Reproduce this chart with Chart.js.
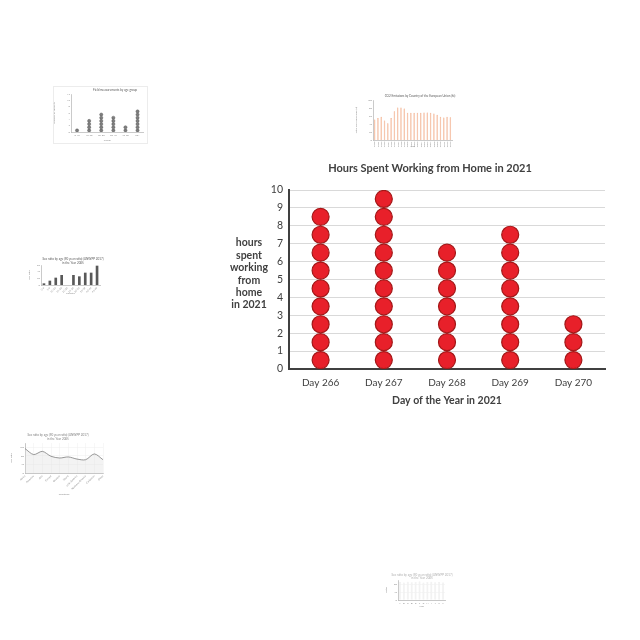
<!DOCTYPE html>
<html>
<head>
<meta charset="utf-8">
<script src="https://cdn.jsdelivr.net/npm/chart.js@4/dist/chart.umd.min.js"></script>
<style>
  html, body { margin:0; padding:0; background:#ffffff; width:640px; height:640px; overflow:hidden; }
  .box { position:absolute; }
  canvas { display:block; }
</style>
</head>
<body>
<div class="box" style="left:220px;top:150px;width:400px;height:270px;"><canvas id="main" width="400" height="270"></canvas></div>
<div class="box" style="left:53px;top:86px;width:95px;height:58px;"><canvas id="t1" width="95" height="58"></canvas></div>
<div class="box" style="left:355px;top:93px;width:105px;height:57px;"><canvas id="t2" width="105" height="57"></canvas></div>
<div class="box" style="left:28px;top:252px;width:76px;height:45px;"><canvas id="t3" width="76" height="45"></canvas></div>
<div class="box" style="left:10px;top:425px;width:110px;height:75px;"><canvas id="t4" width="110" height="75"></canvas></div>
<div class="box" style="left:385px;top:565px;width:75px;height:45px;"><canvas id="t5" width="75" height="45"></canvas></div>
<script>
// ---------- main chart data ----------
const chartTitle = 'Hours Spent Working from Home in 2021';
const xAxisTitle = 'Day of the Year in 2021';
const yAxisTitleLines = ['hours', 'spent', 'working', 'from', 'home', 'in 2021'];
const categories = ['Day 266', 'Day 267', 'Day 268', 'Day 269', 'Day 270'];
const hoursCounts = [9, 10, 7, 8, 3];

// ---------- thumbnail data ----------
const t1Title = 'Field measurements by age group';
const t1Categories = ['0-10', '10-20', '20-30', '30-40', '40-50', '50+'];
const t1Counts = [1, 4, 6, 5, 2, 7];

const t2Title = 'CO2 Emissions by Country of the European Union (kt)';
const t2Years = ['1990','1991','1992','1993','1994','1995','1996','1997','1998','1999','2000','2001','2002','2003','2004','2005','2006','2007','2008','2009','2010','2011','2012','2013'];
const t2Values = [51, 55, 58, 49, 42, 55, 72, 81, 81, 79, 68, 68, 68, 68, 68, 69, 69, 68, 66, 63, 58, 56, 58, 57];

const t3TitleLines = ['Sex ratio by age (90 year ratio) (UNWPP 2017)', 'in the Year 2005'];
const t3Categories = ['0-4','5-9','10-14','15-19','20-24','25-29','30-34','35-39','40-44','45-49'];
const t3Values = [5, 13, 22, 30, 0, 30, 26, 37, 37, 58];

const t4TitleLines = ['Sex ratio by age (90 year ratio) (UNWPP 2017)', 'in the Year 2005'];
const t4Categories = ['Africa','Americas','Asia','Europe','Oceania','World','Latin America','Northern America','Caribbean','Other'];
const t4Values = [114, 86, 101, 78, 70, 75, 65, 62, 89, 62];

const t5TitleLines = ['Sex ratio by age (90 year ratio) (UNWPP 2017)', 'in the Year 2005'];
const t5Categories = ['A','B','C','D','E','F','G','H','I','J','K','L'];
const t5Values = [90, 88, 91, 89, 90, 92, 88, 90, 91, 89, 90, 88];

// ---------- main chart ----------
const dotPoints = [];
categories.forEach((c, i) => {
  for (let k = 0; k < hoursCounts[i]; k++) dotPoints.push({ x: c, y: k + 0.5 });
});

const mainText = {
  id: 'mainText',
  afterDraw(chart) {
    const c = chart.ctx;
    c.save();
    c.fillStyle = '#404040';
    c.textAlign = 'center';
    c.textBaseline = 'middle';
    c.font = 'bold 11px Lato';
    c.fillText(chartTitle, 210, 18);
    c.font = 'bold 10.5px Lato';
    const cx = chart.chartArea.left - 40;
    yAxisTitleLines.forEach((l, i) => c.fillText(l, cx, 93 + i * 12.4));
    c.restore();
  }
};

new Chart(document.getElementById('main'), {
  type: 'scatter',
  data: { datasets: [{
    data: dotPoints,
    pointRadius: 8.5, pointHoverRadius: 8.5,
    backgroundColor: '#e8202a', borderColor: '#a31818', borderWidth: 1.2
  }]},
  options: {
    animation: false, responsive: false, devicePixelRatio: 1,
    layout: { padding: { left: 0, right: 15, top: 40, bottom: 0 } },
    plugins: { legend: { display: false }, tooltip: { enabled: false }, title: { display: false } },
    scales: {
      x: {
        type: 'category', labels: categories, offset: true,
        grid: { display: false, drawTicks: false },
        border: { color: '#404040', width: 2 },
        ticks: { color: '#404040', font: { family: 'Lato', size: 10 }, padding: 8 },
        title: { display: true, text: xAxisTitle, color: '#404040',
                 font: { family: 'Lato', size: 10.5, weight: 'bold' }, padding: { top: 4, bottom: 13 } },
        afterFit(s) { s.height = 51; }
      },
      y: {
        min: 0, max: 10,
        ticks: { stepSize: 1, color: '#404040', font: { family: 'Lato', size: 10.5 }, padding: 6 },
        grid: { color: '#d9d9d9', drawTicks: false },
        border: { color: '#404040', width: 2 },
        afterFit(s) { s.width = 69; }
      }
    }
  },
  plugins: [mainText]
});

// ---------- thumbnails ----------
function titlePlugin(lines, cx, y0, step, color) {
  return {
    id: 'tt' + Math.random().toString(36).slice(2),
    afterDraw(chart) {
      const c = chart.ctx;
      c.save();
      c.fillStyle = color || '#595959';
      c.textAlign = 'center'; c.textBaseline = 'middle';
      c.font = '3px Lato';
      lines.forEach((l, i) => c.fillText(l, cx, y0 + i * step));
      c.restore();
    }
  };
}
function bgPlugin(border) {
  return {
    id: 'bg' + Math.random().toString(36).slice(2),
    beforeDraw(chart) {
      const c = chart.ctx;
      c.save();
      c.fillStyle = '#ffffff';
      c.fillRect(0, 0, chart.width, chart.height);
      if (border) { c.strokeStyle = '#ececec'; c.lineWidth = 1; c.strokeRect(0.5, 0.5, chart.width - 1, chart.height - 1); }
      c.restore();
    }
  };
}
const tinyFont = { family: 'Lato', size: 2.5 };
function tinyScales(area, w, h, opts) {
  opts = opts || {};
  return {
    x: Object.assign({
      grid: { display: false, drawTicks: false },
      border: { color: '#a6a6a6', width: 0.6 },
      ticks: { color: '#8c8c8c', font: tinyFont, padding: 1.5, autoSkip: false,
               maxRotation: opts.rot || 0, minRotation: opts.rot || 0 },
      title: { display: !!opts.xTitle, text: opts.xTitle || '', color: '#8c8c8c', font: tinyFont, padding: { top: 0, bottom: opts.xTitlePad || 2 } },
      afterFit(s) { s.height = h - area[3]; }
    }, opts.x || {}),
    y: Object.assign({
      beginAtZero: true,
      grid: { display: !!opts.yGrid, color: '#efefef', drawTicks: false, lineWidth: 0.5 },
      border: { color: '#a6a6a6', width: 0.6 },
      ticks: { color: '#8c8c8c', font: tinyFont, padding: 1 },
      title: { display: !!opts.yTitle, text: opts.yTitle || '', color: '#8c8c8c', font: tinyFont, padding: 0 },
      afterFit(s) { s.width = area[0]; }
    }, opts.y || {})
  };
}
function baseOpts(area, w, h, scales) {
  return {
    animation: false, responsive: false, devicePixelRatio: 1,
    layout: { padding: { left: 0, top: area[1], right: w - area[2], bottom: 0 } },
    plugins: { legend: { display: false }, tooltip: { enabled: false }, title: { display: false } },
    scales: scales
  };
}

// t1: grey dot plot
(function () {
  const area = [18, 8, 92, 46], w = 95, h = 58;
  const pts = [];
  t1Categories.forEach((c, i) => { for (let k = 0; k < t1Counts[i]; k++) pts.push({ x: c, y: k + 0.5 }); });
  const sc = tinyScales(area, w, h, { xTitle: 'Group', yTitle: 'Number of subjects' });
  sc.x.type = 'category'; sc.x.labels = t1Categories; sc.x.offset = true;
  sc.y.min = 0; sc.y.max = 12; sc.y.ticks.stepSize = 1;
  new Chart(document.getElementById('t1'), {
    type: 'scatter',
    data: { datasets: [{ data: pts, pointRadius: 1.6, backgroundColor: '#7f7f7f', borderColor: '#4d4d4d', borderWidth: 0.4 }] },
    options: baseOpts(area, w, h, sc),
    plugins: [bgPlugin(true), titlePlugin([t1Title], 62, 4, 3)]
  });
})();

// t2: salmon bars
(function () {
  const area = [18, 7, 97, 47], w = 105, h = 57;
  const sc = tinyScales(area, w, h, { rot: 90, xTitle: 'Year', yTitle: 'Total CO2 Emissions (kt)', yGrid: false });
  sc.y.max = 100; sc.y.ticks.stepSize = 20;
  new Chart(document.getElementById('t2'), {
    type: 'bar',
    data: { labels: t2Years, datasets: [{ data: t2Values, backgroundColor: '#f6c2a4', borderColor: '#ee9f78', borderWidth: 0.5, barPercentage: 0.45, categoryPercentage: 1 }] },
    options: baseOpts(area, w, h, sc),
    plugins: [bgPlugin(false), titlePlugin([t2Title], 65, 3, 3)]
  });
})();

// t3: dark grey bars
(function () {
  const area = [13, 13, 72, 33], w = 76, h = 45;
  const sc = tinyScales(area, w, h, { rot: 45, xTitle: 'Country', yTitle: 'Sex ratio' });
  sc.y.max = 60; sc.y.ticks.stepSize = 10;
  new Chart(document.getElementById('t3'), {
    type: 'bar',
    data: { labels: t3Categories, datasets: [{ data: t3Values, backgroundColor: '#595959', barPercentage: 0.45, categoryPercentage: 1 }] },
    options: baseOpts(area, w, h, sc),
    plugins: [bgPlugin(false), titlePlugin(t3TitleLines, 45, 7, 4.5)]
  });
})();

// t4: grey line with fill
(function () {
  const area = [15, 18, 93, 48], w = 110, h = 75;
  const sc = tinyScales(area, w, h, { rot: 45, xTitle: 'Countries', yTitle: 'Sex ratio', yGrid: true, xTitlePad: 4 });
  sc.x.grid = { display: true, color: '#efefef', drawTicks: false, lineWidth: 0.5 };
  sc.y.max = 140; sc.y.ticks.stepSize = 20;
  new Chart(document.getElementById('t4'), {
    type: 'line',
    data: { labels: t4Categories, datasets: [{ data: t4Values, borderColor: '#7f7f7f', borderWidth: 0.8, pointRadius: 0, tension: 0.3, fill: true, backgroundColor: 'rgba(220,220,220,0.35)' }] },
    options: baseOpts(area, w, h, sc),
    plugins: [bgPlugin(false), titlePlugin(t4TitleLines, 48, 10, 4.5, '#7f7f7f')]
  });
})();

// t5: faint bars
(function () {
  const area = [13, 15, 60, 35], w = 75, h = 45;
  const sc = tinyScales(area, w, h, { xTitle: 'Year', yTitle: 'Ratio', yGrid: true });
  sc.y.max = 100; sc.y.ticks.stepSize = 20;
  new Chart(document.getElementById('t5'), {
    type: 'bar',
    data: { labels: t5Categories, datasets: [{ data: t5Values, backgroundColor: '#f2f2f2', borderColor: '#e0e0e0', borderWidth: 0.3, barPercentage: 0.5, categoryPercentage: 1 }] },
    options: baseOpts(area, w, h, sc),
    plugins: [bgPlugin(false), titlePlugin(t5TitleLines, 37, 10, 3, '#b0b0b0')]
  });
})();
</script>
</body>
</html>
